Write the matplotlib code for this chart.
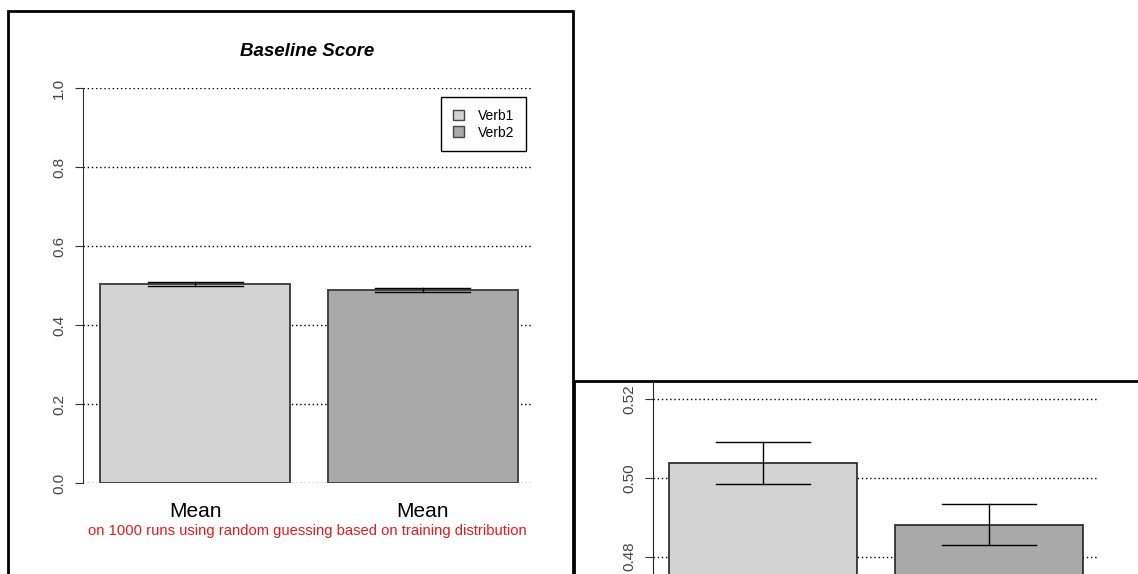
import matplotlib.pyplot as plt
from matplotlib.patches import Rectangle, Patch

plt.rcParams['font.family'] = ['Liberation Sans', 'DejaVu Sans']

# baseline scores over 1000 runs
verbs = ['Verb1', 'Verb2']
means = [0.5037, 0.4880]
err_lo = [0.0053, 0.0051]
err_hi = [0.0054, 0.0053]
colors = ['#d3d3d3', '#a9a9a9']
bar_labels = ['Mean', 'Mean']
main_ticks = [0.0, 0.2, 0.4, 0.6, 0.8, 1.0]
zoom_ticks = [0.48, 0.50, 0.52]

W, H = 1138, 574
fig = plt.figure(figsize=(W / 100, H / 100), dpi=100)


def px_axes(left, top, right, bottom):
    return fig.add_axes([left / W, 1 - bottom / H, (right - left) / W, (bottom - top) / H])


def draw_bars(ax, lw_edge, edge):
    xs = [0.7, 1.9]
    for x, m, lo, hi, c in zip(xs, means, err_lo, err_hi, colors):
        ax.bar(x, m, width=1.0, color=c, edgecolor=edge, linewidth=lw_edge, zorder=2)
        ax.plot([x, x], [m - lo, m + hi], color='black', lw=1, zorder=3)
        for y in (m - lo, m + hi):
            ax.plot([x - 0.25, x + 0.25], [y, y], color='black', lw=1, zorder=3)
    return xs


# panel frames, kept behind both axes
fig.patches.append(Rectangle((8 / W, -0.1), (573 - 8) / W, 1.1 - 11 / H,
                             transform=fig.transFigure, facecolor='white',
                             edgecolor='black', lw=2, zorder=-10))
fig.patches.append(Rectangle((574 / W, -0.1), 0.6, 0.1 + 1 - 381 / H,
                             transform=fig.transFigure, facecolor='white',
                             edgecolor='black', lw=2, zorder=-10))

# full-range chart
ax = px_axes(83, 88, 532, 483)
ax.patch.set_alpha(0)
xs = draw_bars(ax, 1.4, '#444444')
for t in main_ticks:
    ax.axhline(t, color='black', ls=(0, (1, 2)), lw=1, zorder=1)
ax.set_xlim(0.11, 2.474)
ax.set_ylim(0, 1)
for s in ['top', 'right', 'bottom']:
    ax.spines[s].set_visible(False)
ax.spines['left'].set_color('#333333')
ax.set_xticks([])
ax.set_yticks(main_ticks)
ax.set_yticklabels([f'{t:.1f}' for t in main_ticks], rotation=90, va='center',
                   fontsize=11, color='#444444')
ax.tick_params(axis='y', length=6, color='#333333', pad=6)
for x, lab in zip(xs, bar_labels):
    ax.text(x, -0.072, lab, transform=ax.get_xaxis_transform(), ha='center',
            va='center', fontsize=15)
ax.legend(handles=[Patch(facecolor=c, edgecolor='#444444', label=v)
                   for v, c in zip(verbs, colors)],
          loc='upper right', bbox_to_anchor=(526 / W, 1 - 97 / H),
          bbox_transform=fig.transFigure, borderaxespad=0, fontsize=10,
          frameon=True, fancybox=False, edgecolor='black', framealpha=1,
          handlelength=0.8, handleheight=0.8, handletextpad=1.0,
          borderpad=0.85, labelspacing=0.2)

fig.text(307.5 / W, 1 - 51 / H, 'Baseline Score', ha='center', va='center',
         fontsize=13.5, fontweight='bold', fontstyle='italic')
fig.text(307.5 / W, 1 - 531 / H,
         'on 1000 runs using random guessing based on training distribution',
         ha='center', va='center', fontsize=10.6, color='#e31a1c')

# close-up around the means
az = px_axes(653, 381, 1098, 574)
az.patch.set_alpha(0)
draw_bars(az, 1.2, '#222222')
for t in zoom_ticks:
    az.axhline(t, color='black', ls=(0, (1, 2)), lw=1, zorder=1)
az.set_xlim(0.115, 2.482)
az.set_ylim(0.47556, 0.52457)
for s in ['top', 'right', 'bottom']:
    az.spines[s].set_visible(False)
az.spines['left'].set_color('#222222')
az.set_xticks([])
az.set_yticks(zoom_ticks)
az.set_yticklabels([f'{t:.2f}' for t in zoom_ticks], rotation=90, va='center',
                   fontsize=11, color='#444444')
az.tick_params(axis='y', length=6, color='#333333', pad=6)

fig.savefig('out.png', dpi=100)
